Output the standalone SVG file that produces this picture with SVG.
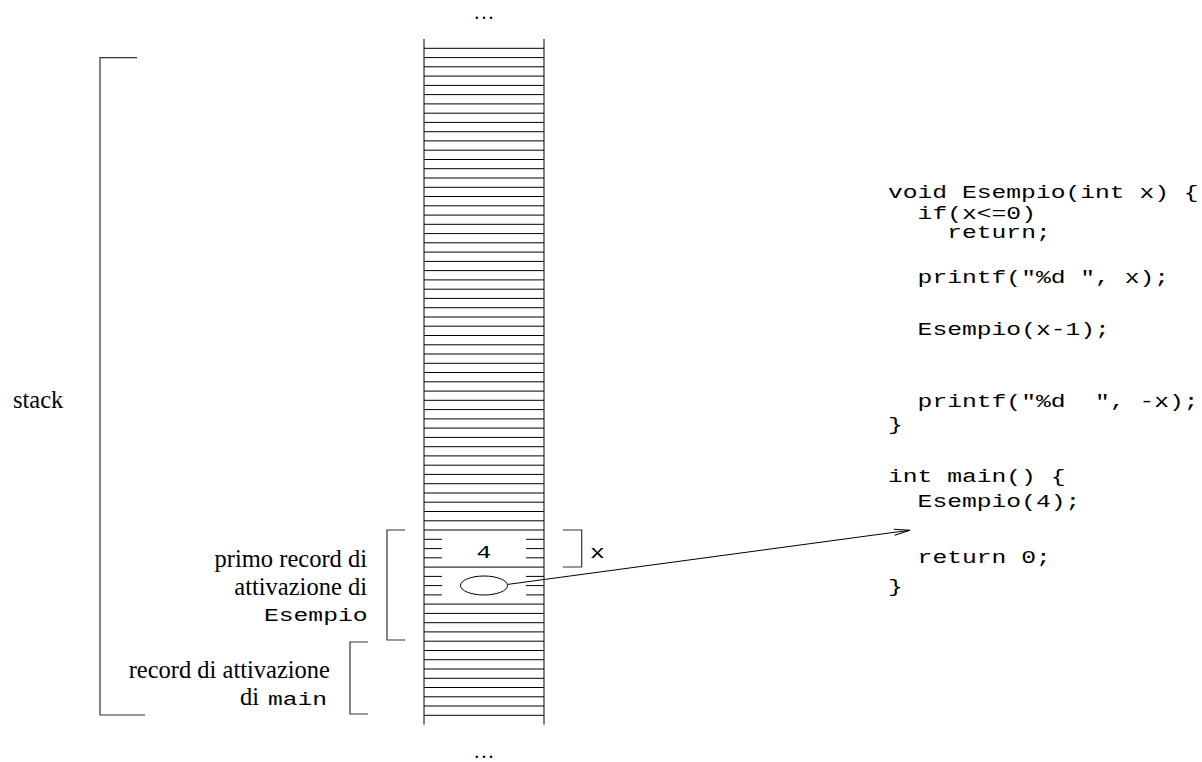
<svg xmlns="http://www.w3.org/2000/svg" width="1202" height="762" viewBox="0 0 1202 762">
<defs>
<style>
.ln{fill:none;stroke:#000;stroke-width:1}
.br{fill:none;stroke:#333;stroke-width:1.2}
.serif{font-family:"Liberation Serif","Times New Roman",serif;font-size:24.5px;fill:#000}
.dots{font-family:"Liberation Serif","Times New Roman",serif;font-size:20px;letter-spacing:2.2px;fill:#000}
.mono{font-family:"Liberation Mono","Courier New",monospace;font-size:18px;fill:#000;white-space:pre}
</style>
<marker id="openArrow" viewBox="0 0 16 6" refX="16" refY="3" markerWidth="16" markerHeight="6" markerUnits="userSpaceOnUse" orient="auto" overflow="visible">
<path d="M0,0 L16,3 L0,6" fill="none" stroke="#000" stroke-width="1"/>
</marker>
</defs>
<rect width="1202" height="762" fill="#fff"/>

<g id="dots-top"><text class="dots" x="485" y="18.5" text-anchor="middle">...</text></g>
<g id="dots-bottom"><text class="dots" x="485" y="757.5" text-anchor="middle">...</text></g>

<g id="stack-column">
<path class="ln" d="M424 39V724.6M544 39V724.6"/>
<path class="ln" d="M424 48.3H544M424 57.6H544M424 66.8H544M424 76.1H544M424 85.4H544M424 94.6H544M424 103.9H544M424 113.2H544M424 122.4H544M424 131.7H544M424 140.9H544M424 150.2H544M424 159.5H544M424 168.7H544M424 178H544M424 187.3H544M424 196.5H544M424 205.8H544M424 215.1H544M424 224.3H544M424 233.6H544M424 242.8H544M424 252.1H544M424 261.4H544M424 270.6H544M424 279.9H544M424 289.2H544M424 298.4H544M424 307.7H544M424 317H544M424 326.2H544M424 335.5H544M424 344.8H544M424 354H544M424 363.3H544M424 372.5H544M424 381.8H544M424 391.1H544M424 400.3H544M424 409.6H544M424 418.9H544M424 428.1H544M424 437.4H544M424 446.7H544M424 455.9H544M424 465.2H544M424 474.4H544M424 483.7H544M424 493H544M424 502.2H544M424 511.5H544M424 520.8H544M424 530H544M424 567.1H544M424 604.1H544M424 613.4H544M424 622.7H544M424 631.9H544M424 641.2H544M424 650.5H544M424 659.7H544M424 669H544M424 678.3H544M424 687.5H544M424 696.8H544M424 706H544M424 715.3H544"/>
<path class="ln" d="M424 539.3H442M526 539.3H544M424 548.6H442M526 548.6H544M424 557.8H442M526 557.8H544M424 576.4H442M526 576.4H544M424 585.6H442M526 585.6H544M424 594.9H442M526 594.9H544"/>
</g>

<g id="cell-x">
<text class="mono" transform="translate(484 558.3) scale(1.37 1)" text-anchor="middle">4</text>
<path class="br" d="M563 530H581.7V567H563"/>
<text class="mono" transform="translate(590 557.7) scale(1.37 1)">x</text>
</g>

<g id="cell-return">
<ellipse cx="484" cy="585.5" rx="23.5" ry="9.5" fill="none" stroke="#000" stroke-width="1"/>
</g>

<g id="brace-stack">
<path class="br" d="M137 57.7H100V715H145"/>
<text class="serif" x="13" y="408">stack</text>
</g>

<g id="record-esempio">
<path class="br" d="M405 530H387V640H405"/>
<text class="serif" x="367" y="567" text-anchor="end">primo record di</text>
<text class="serif" x="367" y="595" text-anchor="end">attivazione di</text>
<text class="mono" transform="translate(264 621) scale(1.37 1)">Esempio</text>
</g>

<g id="record-main">
<path class="br" d="M368 642H350V714H368"/>
<text class="serif" x="330" y="678" text-anchor="end">record di attivazione</text>
<text class="serif" x="240" y="705">di</text>
<text class="mono" transform="translate(268 705) scale(1.37 1)">main</text>
</g>

<g id="code">
<text class="mono" transform="translate(888 197.5) scale(1.37 1)">void Esempio(int x) {</text>
<text class="mono" transform="translate(917.6 218.5) scale(1.37 1)">if(x&lt;=0)</text>
<text class="mono" transform="translate(947.2 238) scale(1.37 1)">return;</text>
<text class="mono" transform="translate(917.6 283) scale(1.37 1)">printf("%d ", x);</text>
<text class="mono" transform="translate(917.6 335) scale(1.37 1)">Esempio(x-1);</text>
<text class="mono" transform="translate(917.6 407) scale(1.37 1)">printf("%d  ", -x);</text>
<text class="mono" transform="translate(888 430) scale(1.37 1)">}</text>
<text class="mono" transform="translate(888 482) scale(1.37 1)">int main() {</text>
<text class="mono" transform="translate(917.6 507) scale(1.37 1)">Esempio(4);</text>
<text class="mono" transform="translate(917.6 563) scale(1.37 1)">return 0;</text>
<text class="mono" transform="translate(888 592) scale(1.37 1)">}</text>
</g>

<g id="connectors">
<path class="ln" d="M507.7 584.4L910 530.2" marker-end="url(#openArrow)"/>
</g>
</svg>
